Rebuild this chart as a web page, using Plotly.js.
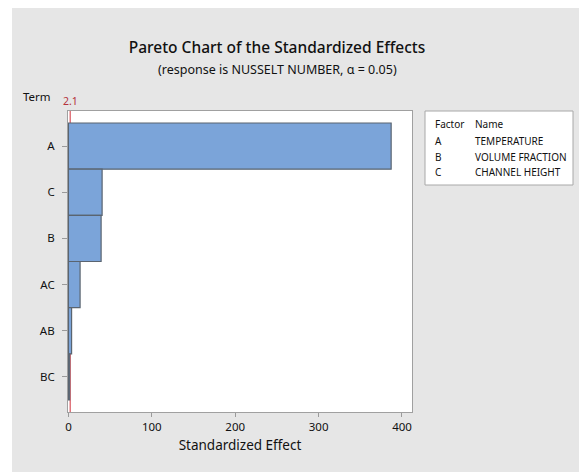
<!DOCTYPE html>
<html><head><meta charset="utf-8">
<script src="https://cdn.plot.ly/plotly-3.0.1.min.js"></script>
<style>html,body{margin:0;padding:0;background:#fff;}#chart{position:absolute;left:12px;top:8px;width:567px;height:464px;}</style>
</head><body><div id="chart"></div>
<script>
const terms = ["A", "C", "B", "AC", "AB", "BC"];
const effects = [387, 40.4, 39.2, 14.0, 3.8, 1.5];
const refValue = 2.1;
const xTicks = [0, 100, 200, 300, 400];
const factorCodes = ["A", "B", "C"];
const factorNames = ["TEMPERATURE", "VOLUME FRACTION", "CHANNEL HEIGHT"];

const W = 567, H = 464, L = 56, R = 167, T = 103, B = 60;
const pw = W - L - R, ph = H - T - B;
const px = x => (x - L) / pw;
const py = y => 1 - (y - T) / ph;
const FONT = "Noto Sans";
const txt = "#111111";

const annotations = [];
annotations.push({xref:'paper', yref:'paper', x:px(265), y:py(62), text:'(response is NUSSELT NUMBER, α = 0.05)', showarrow:false, xanchor:'center', yanchor:'middle', font:{family:FONT, size:12.5, color:txt}});
annotations.push({xref:'paper', yref:'paper', x:px(25), y:py(89), text:'Term', showarrow:false, xanchor:'center', yanchor:'middle', font:{family:FONT, size:11.5, color:txt}});
annotations.push({xref:'x', yref:'paper', x:refValue, y:py(93), text:String(refValue), showarrow:false, xanchor:'center', yanchor:'middle', font:{family:FONT, size:10.5, color:'#b5323c'}});
annotations.push({xref:'paper', yref:'paper', x:px(421), y:py(116), text:'Factor', showarrow:false, xanchor:'left', yanchor:'middle', font:{family:FONT, size:10, color:txt}});
annotations.push({xref:'paper', yref:'paper', x:px(461), y:py(116), text:'Name', showarrow:false, xanchor:'left', yanchor:'middle', font:{family:FONT, size:10, color:txt}});
const rowY = [133, 149, 164];
factorCodes.forEach((c, i) => {
  annotations.push({xref:'paper', yref:'paper', x:px(421), y:py(rowY[i]), text:c, showarrow:false, xanchor:'left', yanchor:'middle', font:{family:FONT, size:10, color:txt}});
  annotations.push({xref:'paper', yref:'paper', x:px(461), y:py(rowY[i]), text:factorNames[i], showarrow:false, xanchor:'left', yanchor:'middle', font:{family:FONT, size:10, color:txt}});
});

const shapes = [
  {type:'line', xref:'x', yref:'paper', x0:refValue, x1:refValue, y0:0, y1:1, layer:'below', line:{color:'#d0303a', width:1}},
  {type:'rect', xref:'paper', yref:'paper', x0:px(413), x1:px(561), y0:py(103), y1:py(177), fillcolor:'#ffffff', line:{color:'#a8a8a8', width:1}}
];

const trace = {
  type:'bar', orientation:'h', y:terms, x:effects,
  marker:{color:'#7ba4d9', line:{color:'#5a6470', width:1.2}},
  hoverinfo:'x+y'
};

const layout = {
  width:W, height:H,
  margin:{l:L, r:R, t:T, b:B},
  paper_bgcolor:'#e6e6e6', plot_bgcolor:'#ffffff',
  showlegend:false, bargap:0,
  title:{text:'Pareto Chart of the Standardized Effects', xref:'paper', x:px(265), xanchor:'center', yref:'container', y:1-40/H, yanchor:'middle', font:{family:FONT, size:15.5, color:txt, weight:500}},
  xaxis:{range:[-0.5, 412], tickvals:xTicks, ticktext:xTicks.map(String), ticks:'outside', ticklen:4, tickcolor:'#9a9a9a', showgrid:false, zeroline:false, showline:true, mirror:true, linecolor:'#a0a0a0', linewidth:1, tickfont:{family:FONT, size:11.5, color:txt},
    title:{text:'Standardized Effect', font:{family:FONT, size:13.5, color:txt}, standoff:7}},
  yaxis:{type:'category', categoryorder:'array', categoryarray:terms, range:[5.76, -0.76], ticks:'outside', ticklen:5, ticklabelstandoff:5, tickcolor:'#9a9a9a', showgrid:false, zeroline:false, showline:true, mirror:true, linecolor:'#a0a0a0', linewidth:1, tickfont:{family:FONT, size:11.5, color:txt}},
  annotations:annotations, shapes:shapes
};
Plotly.newPlot('chart', [trace], layout, {displayModeBar:false, staticPlot:true});
</script></body></html>
